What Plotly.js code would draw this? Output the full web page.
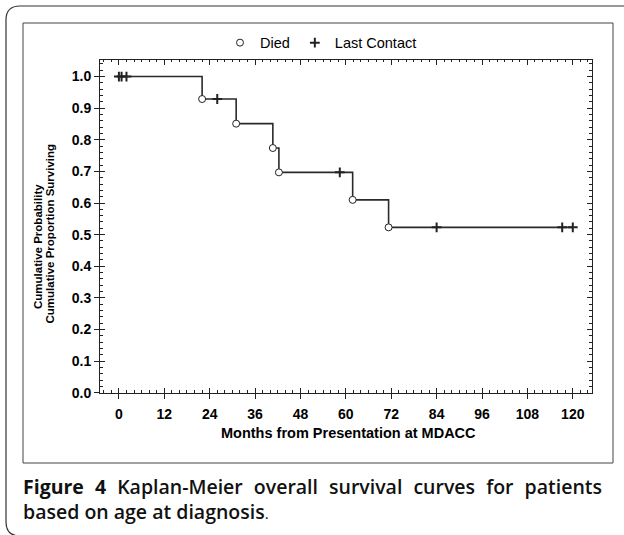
<!DOCTYPE html>
<html>
<head>
<meta charset="utf-8">
<script src="https://cdn.plot.ly/plotly-3.0.1.min.js"></script>
<style>html,body{margin:0;padding:0;background:#fff;}#chart{width:624px;height:535px;}</style>
</head>
<body>
<div id="chart"></div>
<script>
// ---- data ----
var deathMonths  = [22, 31, 40.7, 42.3, 61.8, 71.3];
var deathSurv    = [0.929, 0.851, 0.774, 0.697, 0.610, 0.523];
var censorMonths = [0, 0.7, 2.0, 26, 58.4, 84, 117.2, 120];
var censorSurv   = [1, 1, 1, 0.929, 0.697, 0.523, 0.523, 0.523];
var xTicks = [0, 12, 24, 36, 48, 60, 72, 84, 96, 108, 120];
var yTicks = [0, 0.1, 0.2, 0.3, 0.4, 0.5, 0.6, 0.7, 0.8, 0.9, 1.0];

// step curve built from the events
var events = [];
deathMonths.forEach(function(t, i){ events.push([t, deathSurv[i]]); });
censorMonths.forEach(function(t, i){ events.push([t, censorSurv[i]]); });
events.sort(function(a, b){ return a[0] - b[0]; });
var curveX = [0], curveY = [1];
events.forEach(function(e){ curveX.push(e[0]); curveY.push(e[1]); });

var W = 624, H = 535;
function px(x){ return x / W; }
function py(y){ return 1 - y / H; }

var ink = '#222';
var arial = 'Liberation Sans, Arial, sans-serif';
var tickFont = {family: arial, size: 14, color: '#000', weight: 'bold'};

var traces = [
  {x: curveX, y: curveY, mode: 'lines', line: {shape: 'hv', color: '#2a2a2a', width: 1.6},
   showlegend: false, hoverinfo: 'skip'},
  {x: deathMonths, y: deathSurv, mode: 'markers', name: 'Died',
   marker: {symbol: 'circle', size: 7, color: '#fff', line: {color: ink, width: 1}}},
  {x: censorMonths, y: censorSurv, mode: 'markers', name: 'Last Contact',
   marker: {symbol: 'cross-thin', size: 7, color: ink, line: {color: ink, width: 2}}},
  {x: [], y: [], xaxis: 'x2', yaxis: 'y2', showlegend: false, hoverinfo: 'skip'}
];

var xRange = [-5, 125], yRange = [0, 1.054];
var layout = {
  width: W, height: H,
  margin: {l: 0, r: 0, t: 0, b: 0},
  paper_bgcolor: '#fff', plot_bgcolor: '#fff',
  showlegend: true,
  legend: {orientation: 'h', x: px(321), xanchor: 'center', y: py(42.7), yanchor: 'middle',
           font: {family: arial, size: 14.5, color: '#000'},
           bgcolor: 'rgba(0,0,0,0)', itemwidth: 30},
  xaxis: {domain: [px(100), px(591.7)], range: xRange, anchor: 'y',
          tickmode: 'array', tickvals: xTicks, ticktext: xTicks.map(String),
          ticks: 'inside', ticklen: 5, tickwidth: 1, tickcolor: ink,
          mirror: 'allticks', showline: true, linecolor: ink, linewidth: 1,
          showgrid: false, zeroline: false, tickfont: tickFont, ticklabelstandoff: 8,
          minor: {ticks: 'inside', tick0: 0, dtick: 2, ticklen: 2.5, tickcolor: ink, tickwidth: 1, showgrid: false}},
  yaxis: {domain: [py(392.7), py(59.5)], range: yRange, anchor: 'x',
          tickmode: 'array', tickvals: yTicks, ticktext: yTicks.map(function(v){ return v.toFixed(1); }),
          ticks: 'inside', ticklen: 5, tickwidth: 1, tickcolor: ink,
          mirror: 'allticks', showline: true, linecolor: ink, linewidth: 1,
          showgrid: false, zeroline: false, tickfont: tickFont, ticklabelstandoff: 5,
          minor: {ticks: 'inside', tick0: 0, dtick: 0.02, ticklen: 2.5, tickcolor: ink, tickwidth: 1, showgrid: false}},
  xaxis2: {overlaying: 'x', anchor: 'y2', range: xRange, side: 'bottom',
           tickmode: 'array', tickvals: xTicks, ticks: 'outside', ticklen: 5, tickwidth: 1, tickcolor: ink,
           showticklabels: false, showline: false, showgrid: false, zeroline: false},
  yaxis2: {overlaying: 'y', anchor: 'x2', range: yRange, side: 'left',
           tickmode: 'array', tickvals: yTicks, ticks: 'outside', ticklen: 5, tickwidth: 1, tickcolor: ink,
           showticklabels: false, showline: false, showgrid: false, zeroline: false},
  shapes: [
    {type: 'rect', xref: 'paper', yref: 'paper', x0: px(23), x1: px(613), y0: py(463), y1: py(23),
     line: {color: '#444', width: 1}, fillcolor: 'rgba(0,0,0,0)', layer: 'below'},
    {type: 'path', xref: 'paper', yref: 'paper',
     path: 'M ' + px(630) + ',' + py(6) + ' L ' + px(20) + ',' + py(6) +
           ' Q ' + px(6) + ',' + py(6) + ' ' + px(6) + ',' + py(20) +
           ' L ' + px(6) + ',' + py(522) +
           ' Q ' + px(6) + ',' + py(536) + ' ' + px(20) + ',' + py(536) +
           ' L ' + px(630) + ',' + py(536),
     line: {color: '#333', width: 1.2}}
  ],
  annotations: [
    {xref: 'paper', yref: 'paper', x: px(348), y: py(433), xanchor: 'center', yanchor: 'middle',
     text: 'Months from Presentation at MDACC', showarrow: false,
     font: {family: arial, size: 14.5, color: '#000', weight: 'bold'}},
    {xref: 'paper', yref: 'paper', x: px(38), y: py(247), xanchor: 'center', yanchor: 'middle',
     text: 'Cumulative Probability', showarrow: false, textangle: -90,
     font: {family: arial, size: 11.5, color: '#000', weight: 'bold'}},
    {xref: 'paper', yref: 'paper', x: px(49.5), y: py(234), xanchor: 'center', yanchor: 'middle',
     text: 'Cumulative Proportion Surviving', showarrow: false, textangle: -90,
     font: {family: arial, size: 11.5, color: '#000', weight: 'bold'}},
    {xref: 'paper', yref: 'paper', x: px(20), y: py(498.5), xanchor: 'left', yanchor: 'middle', align: 'left',
     text: '<b>Figure 4</b> Kaplan-Meier overall survival curves for patients<br>based on age at diagnosis<span style="font-size:15px;font-weight:400">.</span>',
     showarrow: false, borderpad: 0,
     font: {family: 'Open Sans, sans-serif', size: 19.5, color: '#111', weight: 600}}
  ]
};

Plotly.newPlot('chart', traces, layout, {staticPlot: true, displayModeBar: false}).then(function(gd){
  // justify the first caption line to the frame width, as in the reference
  var left = 23, right = 602;
  gd.querySelectorAll('.annotation-text').forEach(function(n){
    if (n.textContent.indexOf('Figure 4') !== 0) return;
    var lines = n.querySelectorAll('tspan.line');
    var first = lines.length ? lines[0] : n;
    var r = first.getBoundingClientRect();
    var txt = first.textContent;
    var gaps = (txt.match(/ /g) || []).length;
    var extra = (right - left) - r.width;
    if (gaps > 0 && extra > 0) first.style.wordSpacing = (extra / gaps) + 'px';
    // keep the block's left edge on the frame margin
    var r2 = first.getBoundingClientRect();
    var dx = left - r2.left;
    var all = lines.length ? lines : [n];
    all.forEach(function(t){
      var x = parseFloat(t.getAttribute('x') || '0');
      t.setAttribute('x', x + dx);
    });
  });
});
</script>
</body>
</html>
